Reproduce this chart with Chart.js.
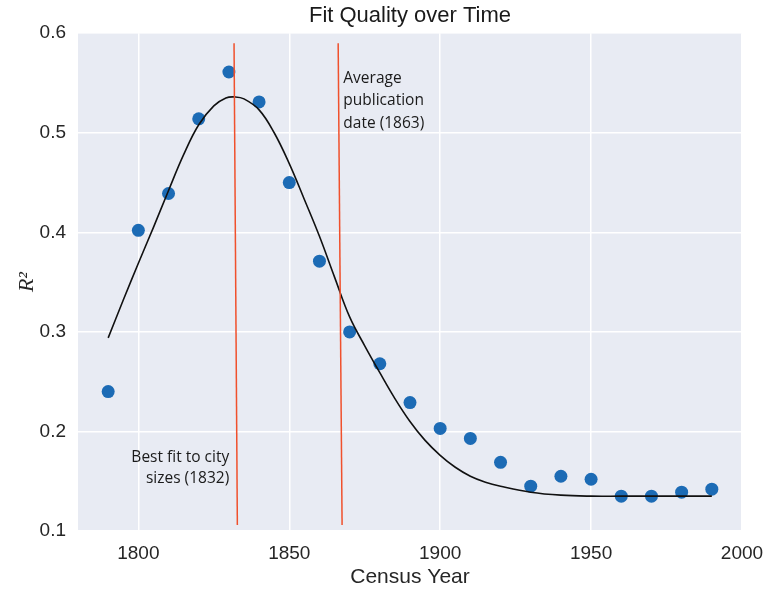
<!DOCTYPE html>
<html>
<head>
<meta charset="utf-8">
<script src="https://cdn.jsdelivr.net/npm/chart.js@4.4.1/dist/chart.umd.min.js"></script>
<style>
  body { margin: 0; background: #fff; }
  #wrap { width: 766px; height: 591px; }
</style>
</head>
<body>
<div id="wrap"><canvas id="fitChart" width="766" height="591"></canvas></div>
<script>
// census years and R^2 of each year
const years = [1790, 1800, 1810, 1820, 1830, 1840, 1850, 1860, 1870, 1880, 1890,
               1900, 1910, 1920, 1930, 1940, 1950, 1960, 1970, 1980, 1990];
const r2 = [0.240, 0.402, 0.439, 0.514, 0.561, 0.531, 0.450, 0.371, 0.300, 0.268, 0.229,
            0.203, 0.193, 0.169, 0.145, 0.155, 0.152, 0.135, 0.135, 0.139, 0.142];

// fitted curve
const fitYears = [1790, 1795, 1800, 1805, 1810, 1815, 1820, 1825, 1829, 1832, 1835, 1840, 1845,
                  1850, 1855, 1860, 1865, 1870, 1875, 1880, 1885, 1890, 1895, 1900, 1905,
                  1910, 1915, 1920, 1930, 1940, 1950, 1960, 1970, 1980, 1990];
const fitValues = [0.294, 0.332, 0.369, 0.405, 0.442, 0.478, 0.508, 0.527, 0.535, 0.536, 0.534, 0.523, 0.500,
                   0.469, 0.433, 0.396, 0.355, 0.315, 0.286, 0.259, 0.233, 0.210, 0.191, 0.176, 0.164,
                   0.155, 0.149, 0.145, 0.139, 0.136, 0.135, 0.135, 0.135, 0.135, 0.135];

// the two red marker lines (top and bottom end of each)
const bestFitLineX = [1831.7, 1832.8];
const pubDateLineX = [1866.2, 1867.5];
const markerLineY = [0.590, 0.106];

const xTicks = [1800, 1850, 1900, 1950, 2000];
const yTicks = [0.1, 0.2, 0.3, 0.4, 0.5, 0.6];

const pubNote = ['Average', 'publication', 'date (1863)'];
const bestNote = ['Best fit to city', 'sizes (1832)'];

function pairs(xs, ys) {
    return xs.map((x, i) => ({ x: x, y: ys[i] }));
}

const bgPlugin = {
    id: 'plotBg',
    beforeDraw(chart) {
        const a = chart.chartArea;
        const ctx = chart.ctx;
        ctx.save();
        ctx.fillStyle = '#e8ebf3';
        ctx.fillRect(a.left, a.top, a.right - a.left, a.bottom - a.top);
        ctx.restore();
    }
};

// text notes next to the red lines
const notePlugin = {
    id: 'notes',
    afterDatasetsDraw(chart) {
        const ctx = chart.ctx;
        const xs = chart.scales.x, ys = chart.scales.y;
        ctx.save();
        ctx.fillStyle = '#1a1a1a';
        ctx.font = '15.5px "Open Sans"';
        ctx.textBaseline = 'alphabetic';

        ctx.textAlign = 'left';
        let x = xs.getPixelForValue(1867.9);
        let y = ys.getPixelForValue(0.55);
        pubNote.forEach((t, i) => ctx.fillText(t, x, y + i * 22.5));

        ctx.textAlign = 'right';
        x = xs.getPixelForValue(1830.1);
        y = ys.getPixelForValue(0.1696);
        bestNote.forEach((t, i) => ctx.fillText(t, x, y + i * 21.5));
        ctx.restore();
    }
};

const ctx = document.getElementById('fitChart').getContext('2d');
const fitChart = new Chart(ctx, {
    type: 'scatter',
    data: {
        datasets: [
            {
                label: 'fit',
                data: pairs(fitYears, fitValues),
                showLine: true,
                borderColor: '#111111',
                borderWidth: 1.6,
                pointRadius: 0,
                tension: 0.4,
                order: 1
            },
            {
                label: 'best fit',
                data: pairs(bestFitLineX, markerLineY),
                showLine: true,
                borderColor: '#f0502c',
                borderWidth: 1.5,
                pointRadius: 0,
                order: 0
            },
            {
                label: 'publication',
                data: pairs(pubDateLineX, markerLineY),
                showLine: true,
                borderColor: '#f0502c',
                borderWidth: 1.5,
                pointRadius: 0,
                order: 0
            },
            {
                label: 'R2',
                data: pairs(years, r2),
                backgroundColor: '#1c6bb5',
                borderWidth: 0,
                pointRadius: 6.5,
                order: 2
            }
        ]
    },
    options: {
        responsive: false,
        animation: false,
        layout: { padding: { left: 0, right: 24, top: 0, bottom: 0 } },
        plugins: {
            legend: { display: false },
            tooltip: { enabled: false },
            title: {
                display: true,
                text: 'Fit Quality over Time',
                fullSize: false,
                color: '#1a1a1a',
                font: { family: '"Liberation Sans", Arial, sans-serif', size: 22, weight: 'normal', lineHeight: 1.1 },
                padding: { top: 4, bottom: 5 }
            }
        },
        scales: {
            x: {
                type: 'linear',
                min: 1780,
                max: 2000,
                afterBuildTicks: s => { s.ticks = xTicks.map(v => ({ value: v })); },
                afterFit: s => { s.height = 60; s.paddingLeft = 0; s.paddingRight = 0; },
                border: { display: false },
                grid: { color: '#ffffff', lineWidth: 1.5, drawTicks: false },
                ticks: {
                    padding: 11,
                    color: '#262626',
                    font: { family: '"Liberation Sans", Arial, sans-serif', size: 19 },
                    maxRotation: 0,
                    callback: v => String(v)
                },
                title: {
                    display: true,
                    text: 'Census Year',
                    color: '#262626',
                    font: { family: '"Liberation Sans", Arial, sans-serif', size: 21, lineHeight: 1.2 },
                    padding: { top: 0, bottom: 1 }
                }
            },
            y: {
                type: 'linear',
                min: 0.1,
                max: 0.6,
                afterBuildTicks: s => { s.ticks = yTicks.map(v => ({ value: v })); },
                afterFit: s => { s.width = 78; },
                border: { display: false },
                grid: { color: '#ffffff', lineWidth: 1.5, drawTicks: false },
                ticks: {
                    padding: 12,
                    color: '#262626',
                    font: { family: '"Liberation Sans", Arial, sans-serif', size: 19 },
                    callback: v => v.toFixed(1)
                },
                title: {
                    display: true,
                    text: 'R²',
                    color: '#262626',
                    font: { family: '"Liberation Serif", serif', size: 22, style: 'italic', lineHeight: 1.2 },
                    padding: { top: 14, bottom: 0 }
                }
            }
        }
    },
    plugins: [bgPlugin, notePlugin]
});
</script>
</body>
</html>
